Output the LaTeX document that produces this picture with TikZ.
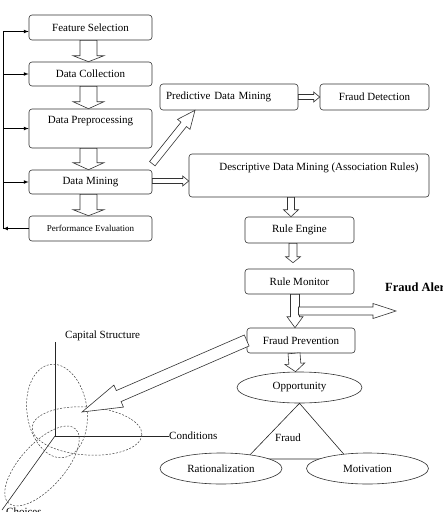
\documentclass[tikz,border=0pt]{standalone}
\usepackage{fontspec}
\setmainfont{Liberation Serif}
\usetikzlibrary{calc,shapes.geometric}

\tikzset{
  box/.style={draw=black!80, rounded corners=3pt, line width=0.6pt, fill=white, inner sep=2pt},
  oval/.style={draw=black!80, ellipse, line width=0.6pt, fill=white, inner sep=0pt},
  hollow/.style={draw=black!80, line width=0.6pt, fill=white, line join=miter},
  loopline/.style={draw=black, line width=0.7pt},
  zone/.style={draw=black!75, dash pattern=on 2pt off 1.5pt, line width=0.5pt},
  axis/.style={draw=black!85, line width=0.6pt},
}

% hollow block arrow: start, end, half shaft, half head, head length
\newcommand{\hollowarrow}[5]{%
  \path (#1) coordinate (ha-s) (#2) coordinate (ha-e);
  \path ($(ha-e)!#5!(ha-s)$) coordinate (ha-c);
  \draw[hollow] ($(ha-s)!#3!90:(ha-e)$) -- ($(ha-c)!#3!90:(ha-e)$)
    -- ($(ha-c)!#4!90:(ha-e)$) -- (ha-e) -- ($(ha-c)!#4!-90:(ha-e)$)
    -- ($(ha-c)!#3!-90:(ha-e)$) -- ($(ha-s)!#3!-90:(ha-e)$) -- cycle;
}

\begin{document}
\begin{tikzpicture}[x=1pt, y=-1pt, font=\fontsize{11pt}{13pt}\selectfont]
  \useasboundingbox (0,0) rectangle (443,512);
  \clip (0,0) rectangle (443,512);

  % mining process
  \node[box, minimum width=123pt, minimum height=25pt] (feat) at (90.5,27.5) {Feature Selection};
  \node[box, minimum width=123pt, minimum height=24pt] (coll) at (90.5,74) {Data Collection};
  \node[box, minimum width=123pt, minimum height=39pt, align=center] (prep) at (90.5,128.5) {Data Preprocessing\\ \strut};
  \node[box, minimum width=123pt, minimum height=24pt] (mine) at (90.5,182) {Data Mining};
  \node[box, minimum width=123pt, minimum height=25pt, font=\fontsize{9pt}{11pt}\selectfont] (perf) at (90.5,228.5) {Performance Evaluation};

  \hollowarrow{[xshift=-2pt]feat.south}{[xshift=-2pt]coll.north}{8.5pt}{15.5pt}{6pt}
  \hollowarrow{[xshift=-2pt]coll.south}{[xshift=-2pt]prep.north}{8.5pt}{15.5pt}{7pt}
  \hollowarrow{[xshift=-2pt]prep.south}{[xshift=-2pt]mine.north}{8.5pt}{15.5pt}{7pt}
  \hollowarrow{[xshift=-2pt]mine.south}{[xshift=-2pt]perf.north}{8.5pt}{15.5pt}{6pt}

  % feedback loop
  \coordinate (fbtop) at (3,31.5);
  \coordinate (fbbot) at (3,228.5);
  \draw[loopline, -latex] (perf.west) -- (fbbot);
  \draw[loopline] (fbbot) -- (fbtop);
  \draw[loopline, -latex] (fbtop) -- (fbtop -| feat.west);
  \draw[loopline, -latex] (coll.west -| fbtop) -- (coll.west);
  \draw[loopline, -latex] (prep.west -| fbtop) -- (prep.west);
  \draw[loopline, -latex] (mine.west -| fbtop) -- (mine.west);

  % detection and rules
  \node[box, minimum height=26pt, text width=126pt, align=left, inner sep=6pt] (pred) at (229,97) {Predictive Data Mining};
  \node[box, minimum width=109pt, minimum height=26pt] (det) at (374.5,97) {Fraud Detection};
  \node[box, minimum width=240pt, minimum height=43pt, align=center] (desc) at (309,175.5) {\hspace{20pt}Descriptive Data Mining (Association Rules)\\ \strut};
  \node[box, minimum width=109pt, minimum height=26pt] (engine) at (299.5,230) {Rule Engine};
  \node[box, minimum width=109pt, minimum height=25pt] (monitor) at (299.5,281.5) {Rule Monitor};
  \node[box, minimum width=108pt, minimum height=25pt] (prev) at (301,340.5) {Fraud Prevention};
  \node[anchor=west, inner sep=0pt, font=\fontsize{12.5pt}{14pt}\selectfont\bfseries] (alert) at (385,287) {Fraud Alert};

  \hollowarrow{pred.east}{det.west}{2.5pt}{5pt}{6pt}
  \hollowarrow{[yshift=1pt]mine.east}{[yshift=-5.5pt]desc.west}{2.5pt}{5pt}{6pt}
  \hollowarrow{[yshift=6pt]mine.north east}{[xshift=-34pt]pred.south}{3.5pt}{8pt}{18pt}
  \hollowarrow{[xshift=-18pt]desc.south}{[xshift=-8.5pt]engine.north}{3.5pt}{7.5pt}{7pt}
  \hollowarrow{[xshift=-6.5pt]engine.south}{[xshift=-6.5pt,yshift=6pt]monitor.north}{4pt}{7.5pt}{6pt}
  \hollowarrow{[xshift=-4.5pt]monitor.south}{[xshift=-6pt]prev.north}{4.5pt}{8pt}{11pt}
  \coordinate (alertbase) at (298.5,311);
  \coordinate (alerttip) at (396,311);
  \hollowarrow{alertbase}{alerttip}{4pt}{7.5pt}{23pt}

  % fraud triangle
  \node[oval, minimum width=125pt, minimum height=31pt] (opp) at (299.5,387.5) {Opportunity};
  \hollowarrow{[xshift=-7pt]prev.south}{[xshift=-4pt]opp.north}{6pt}{10pt}{8pt}
  \coordinate (fl) at (246,459);
  \coordinate (fr) at (348,459);
  \draw[axis] (opp.south) -- (fl) -- (fr) -- cycle;
  \node (fraud) at (288,438) {Fraud};
  \node[oval, minimum width=122pt, minimum height=31pt] (rat) at (221,468.5) {Rationalization};
  \node[oval, minimum width=122pt, minimum height=31pt] (mot) at (367.5,468.5) {Motivation};

  % three dimensions
  \coordinate (origin) at (55,436);
  \node[anchor=south west, inner sep=1pt] (capital) at (64,342) {Capital Structure};
  \node[anchor=west, inner sep=0pt] (cond) at (169,436) {Conditions};
  \node[anchor=west, inner sep=0pt] (choice) at (6,512) {Choices};
  \draw[axis] (origin) -- (origin |- capital.south);
  \draw[axis] (origin) -- (cond.west);
  \draw[axis] (origin) -- (2,510);
  \draw[zone, rotate around={8:(57,411)}] (57,411) ellipse [x radius=30pt, y radius=47pt];
  \draw[zone, rotate around={-4:(87,431)}] (87,431) ellipse [x radius=55pt, y radius=24pt];
  \draw[zone, rotate around={48:(42,466)}] (42,466) ellipse [x radius=50pt, y radius=22pt];

  \hollowarrow{prev.west}{82,412}{6pt}{12pt}{40pt}
\end{tikzpicture}
\end{document}
